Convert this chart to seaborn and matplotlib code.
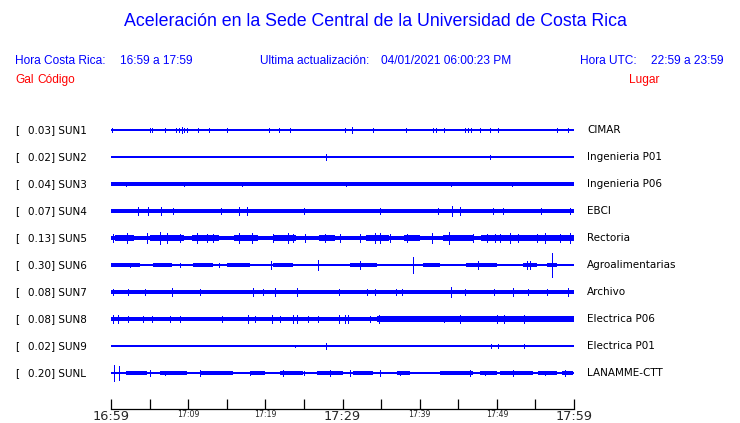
import numpy as np
import matplotlib
matplotlib.use('Agg')
import matplotlib.pyplot as plt
import seaborn as sns

# station info
codes = ['SUN1', 'SUN2', 'SUN3', 'SUN4', 'SUN5', 'SUN6', 'SUN7', 'SUN8', 'SUN9', 'SUNL']
peaks = [0.03, 0.02, 0.04, 0.07, 0.13, 0.30, 0.08, 0.08, 0.02, 0.20]
places = ['CIMAR', 'Ingenieria P01', 'Ingenieria P06', 'EBCI', 'Rectoria',
          'Agroalimentarias', 'Archivo', 'Electrica P06', 'Electrica P01', 'LANAMME-CTT']

# time window, minutes after 16:59
window = [0, 60]
tick_minutes = list(range(0, 61, 5))
tick_labels = ['16:59', '', '17:09', '', '17:19', '', '17:29', '', '17:39', '', '17:49', '', '17:59']
big_ticks = ['16:59', '17:29', '17:59']

# background noise half-width of each trace (trace spacing = 1)
base_amp = [0.022, 0.022, 0.065, 0.08, 0.09, 0.035, 0.075, 0.08, 0.022, 0.04]

# louder stretches (start min, end min, half-width)
sun4_bursts = [(3.0, 9.0, 0.09)]
sun5_bursts = [(0.5, 3.0, 0.11), (5.0, 9.5, 0.115), (10.5, 14.0, 0.105), (16.0, 19.0, 0.11),
               (21.0, 24.0, 0.105), (27.0, 29.0, 0.1), (33.0, 36.0, 0.115), (38.0, 40.0, 0.1),
               (43.0, 47.0, 0.11), (48.0, 60.0, 0.105)]
sun6_bursts = [(0.0, 3.8, 0.058), (5.4, 7.9, 0.058), (10.6, 13.2, 0.058), (15.0, 18.0, 0.058),
               (21.0, 23.6, 0.058), (31.0, 34.5, 0.062), (40.4, 42.6, 0.058), (46.0, 47.8, 0.062),
               (47.8, 50.0, 0.058), (53.4, 55.2, 0.065), (56.5, 57.8, 0.07)]
sun8_bursts = [(34.5, 60.0, 0.095)]
sunl_bursts = [(2.0, 4.7, 0.06), (6.3, 9.8, 0.06), (11.5, 15.8, 0.06), (18.0, 20.0, 0.06),
               (21.9, 24.9, 0.06), (26.7, 30.0, 0.06), (31.4, 34.0, 0.06), (37.0, 38.7, 0.06),
               (42.6, 46.9, 0.06), (47.8, 50.0, 0.06), (50.4, 54.7, 0.06), (55.3, 57.8, 0.06),
               (58.4, 59.9, 0.06)]
bursts = [[], [], [], sun4_bursts, sun5_bursts, sun6_bursts, [], sun8_bursts, [], sunl_bursts]

# individual spikes (minute, half-amplitude)
sun1_spikes = [(0.1, 0.08), (5.0, 0.07), (5.3, 0.07), (7.0, 0.06), (8.4, 0.07), (8.8, 0.08),
               (9.2, 0.11), (9.5, 0.08), (9.9, 0.07), (11.3, 0.07), (12.7, 0.09), (15.0, 0.06),
               (20.5, 0.09), (21.8, 0.06), (23.2, 0.06), (30.3, 0.07), (31.2, 0.11), (34.0, 0.06),
               (38.2, 0.06), (41.7, 0.07), (42.1, 0.06), (43.2, 0.07), (45.9, 0.08), (46.3, 0.07),
               (46.7, 0.06), (47.8, 0.08), (49.1, 0.06), (50.1, 0.08), (57.8, 0.06), (59.2, 0.07)]
sun2_spikes = [(27.9, 0.11), (49.1, 0.07)]
sun3_spikes = [(2.0, 0.09), (9.5, 0.09), (17.0, 0.08), (30.5, 0.09), (44.0, 0.08), (52.0, 0.09)]
sun4_spikes = [(3.5, 0.13), (4.8, 0.13), (6.5, 0.15), (8.0, 0.12), (14.3, 0.12), (16.6, 0.13),
               (17.6, 0.13), (25.0, 0.12), (34.9, 0.12), (42.4, 0.12), (44.2, 0.19), (45.2, 0.16),
               (49.5, 0.12), (50.8, 0.12), (55.7, 0.12), (59.5, 0.12)]
sun5_spikes = [(0.3, 0.16), (2.1, 0.17), (4.7, 0.17), (6.3, 0.23), (7.3, 0.17), (8.9, 0.16),
               (11.1, 0.17), (12.4, 0.16), (13.2, 0.16), (16.6, 0.19), (18.3, 0.19), (21.0, 0.16),
               (23.0, 0.17), (23.6, 0.16), (25.1, 0.16), (27.7, 0.15), (29.7, 0.15), (32.3, 0.16),
               (34.2, 0.19), (34.9, 0.18), (36.2, 0.15), (38.4, 0.15), (41.6, 0.17), (43.8, 0.23),
               (46.9, 0.15), (48.7, 0.15), (49.8, 0.16), (50.4, 0.16), (51.7, 0.17), (52.7, 0.15),
               (55.2, 0.16), (56.2, 0.17), (58.2, 0.15), (59.5, 0.18)]
sun6_spikes = [(2.5, 0.08), (9.0, 0.08), (14.0, 0.08), (20.7, 0.13), (26.8, 0.19), (32.3, 0.15),
               (39.1, 0.30), (47.6, 0.13), (53.9, 0.15), (54.3, 0.13), (57.1, 0.44)]
sun7_spikes = [(0.3, 0.12), (2.2, 0.12), (4.4, 0.12), (7.9, 0.13), (11.5, 0.12), (18.4, 0.13),
               (19.7, 0.12), (21.3, 0.13), (24.1, 0.13), (29.5, 0.12), (33.2, 0.12), (34.2, 0.12),
               (36.9, 0.12), (37.7, 0.12), (44.1, 0.19), (45.9, 0.12), (49.6, 0.12), (52.1, 0.13),
               (54.0, 0.12), (56.5, 0.12), (59.2, 0.15)]
sun8_spikes = [(0.3, 0.13), (0.9, 0.13), (2.2, 0.12), (4.1, 0.12), (5.3, 0.12), (7.6, 0.12),
               (8.9, 0.12), (14.4, 0.12), (17.8, 0.13), (18.7, 0.12), (20.9, 0.16), (21.9, 0.12),
               (23.6, 0.16), (24.1, 0.13), (25.5, 0.12), (26.8, 0.12), (29.5, 0.13), (30.3, 0.16),
               (30.7, 0.16), (33.6, 0.12), (34.7, 0.13), (43.2, 0.12), (45.2, 0.13), (50.0, 0.16),
               (50.9, 0.13), (53.5, 0.13)]
sun9_spikes = [(23.8, 0.05), (27.9, 0.1), (49.2, 0.06), (50.1, 0.07), (53.5, 0.07)]
sunl_spikes = [(0.4, 0.30), (1.0, 0.26), (5.1, 0.1), (7.0, 0.09), (11.5, 0.1), (18.0, 0.09),
               (22.3, 0.1), (25.0, 0.09), (28.4, 0.1), (31.0, 0.12), (34.9, 0.1), (37.5, 0.09),
               (46.5, 0.12), (48.5, 0.09), (52.1, 0.1), (56.3, 0.09), (58.8, 0.1)]
spikes = [sun1_spikes, sun2_spikes, sun3_spikes, sun4_spikes, sun5_spikes, sun6_spikes,
          sun7_spikes, sun8_spikes, sun9_spikes, sunl_spikes]

BLUE = '#0000ff'
RED = '#ff0000'

sns.set_theme(style='white')
plt.rcParams['font.family'] = ['DejaVu Sans']

W, H = 740, 423
fig = plt.figure(figsize=(W / 100, H / 100), dpi=100)
ax = fig.add_axes([111 / W, 1 - 409 / H, 463 / W, (409 - 115) / H])

for i in range(len(codes)):
    ax.fill_between(window, i - base_amp[i], i + base_amp[i], color=BLUE, lw=0,
                    antialiased=False)
    for start, end, amp in bursts[i]:
        ax.fill_between([start, end], i - amp, i + amp, color=BLUE, lw=0, antialiased=False)
    t = [s[0] for s in spikes[i]]
    a = np.array([s[1] for s in spikes[i]])
    ax.vlines(t, i - a, i + a, color=BLUE, lw=0.72, antialiased=False)

    ax.annotate('[', xy=(15, i), xycoords=('figure pixels', 'data'), va='center',
                fontsize=7.5, color='black')
    ax.annotate(f'{peaks[i]:.2f}] {codes[i]}', xy=(27.5, i), xycoords=('figure pixels', 'data'),
                va='center', fontsize=7.5, color='black')
    ax.annotate(places[i], xy=(587, i), xycoords=('figure pixels', 'data'), va='center',
                fontsize=7.5, color='black')

ax.set_xlim(window)
ax.set_ylim((409 - 130) / 27, (115 - 130) / 27)
ax.set_yticks([])
ax.set_xticks(tick_minutes)
ax.set_xticklabels(tick_labels)
for lab in ax.get_xticklabels():
    lab.set_fontsize(9.3 if lab.get_text() in big_ticks else 5.7)
ax.tick_params(axis='x', direction='in', length=7.2, width=0.9, color='black', pad=1.0,
               bottom=True)
for side in ['top', 'left', 'right']:
    ax.spines[side].set_visible(False)
ax.spines['bottom'].set_color('black')
ax.spines['bottom'].set_linewidth(0.9)

# header
hdr = ['Liberation Sans', 'DejaVu Sans']


def ptext(x, y, s, size, color, ha='left'):
    fig.text(x / W, 1 - y / H, s, fontsize=size, color=color, ha=ha, va='center', family=hdr)


ptext(375, 22, 'Aceleración en la Sede Central de la Universidad de Costa Rica', 12.8, BLUE, 'center')
ptext(15, 61, 'Hora Costa Rica:', 8.6, BLUE)
ptext(120, 61, '16:59 a 17:59', 8.6, BLUE)
ptext(260, 61, 'Ultima actualización:', 8.6, BLUE)
ptext(381, 61, '04/01/2021 06:00:23 PM', 8.6, BLUE)
ptext(580, 61, 'Hora UTC:', 8.6, BLUE)
ptext(651, 61, '22:59 a 23:59', 8.6, BLUE)
ptext(15, 80, 'Gal', 8.6, RED)
ptext(37, 80, 'Código', 8.6, RED)
ptext(629, 80, 'Lugar', 8.6, RED)

fig.savefig('out.png', dpi=100)
